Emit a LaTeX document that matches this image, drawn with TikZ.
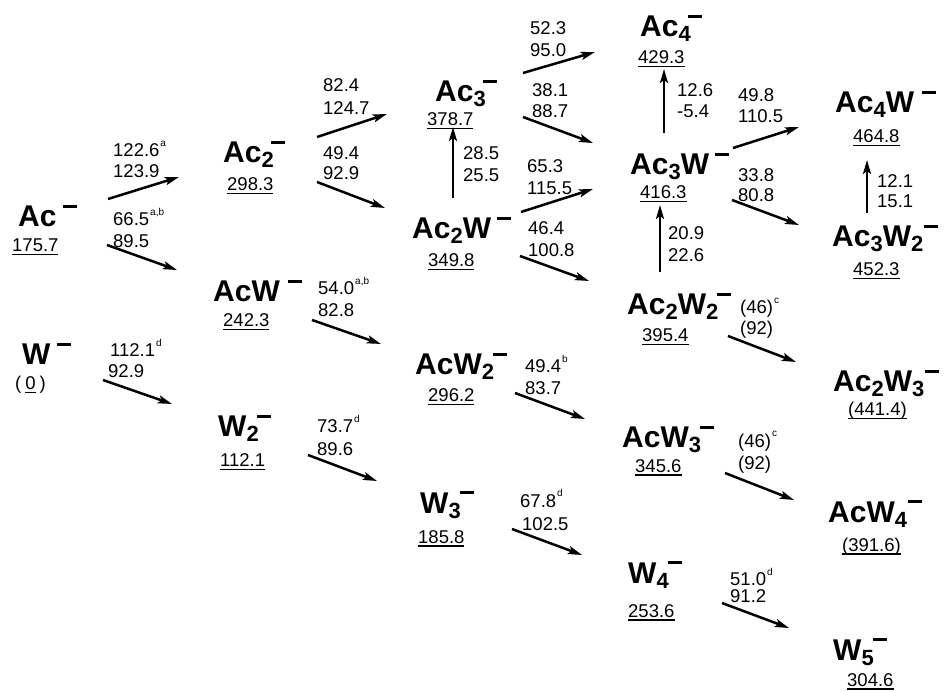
\documentclass[tikz,border=0pt]{standalone}
\usepackage{fontspec}
\setmainfont{Liberation Sans}
\usetikzlibrary{arrows.meta}
\newcommand\lsub[1]{\raisebox{-5pt}{\fontsize{22}{22}\selectfont\bfseries #1}}
\newcommand\lneg[1][6pt]{\hspace{#1}\raisebox{19pt}{\rule{14pt}{2.8pt}}}
\newcommand\lsup[1]{\hspace{1pt}\raisebox{10pt}{\fontsize{10}{10}\selectfont #1}}
\newcommand\uln[1]{\setbox0\hbox{#1}\rlap{\rule[-3.5pt]{\wd0}{1.3pt}}\box0}
\tikzset{
 species/.style={anchor=base west, inner sep=0pt, font=\fontsize{30}{30}\selectfont\bfseries},
 val/.style={anchor=base west, inner sep=0pt, font=\fontsize{18.5}{18.5}\selectfont},
 lab/.style={anchor=base west, inner sep=0pt, font=\fontsize{18.5}{18.5}\selectfont},
 arr/.style={line width=2.5pt, -{Stealth[length=14pt,width=8pt,inset=3pt]}},
}
\begin{document}
\begin{tikzpicture}[x=1pt,y=-1pt]
\useasboundingbox (0,0) rectangle (948,692);
% species
\node[species] (s-ac) at (18,227) {Ac\lneg};
\node[val] (v-ac) at (12,252) {\uln{175.7}};
\node[species] (s-w) at (22,365) {W\lneg};
\node[val] (v-w) at (15,390) {(\hspace{4pt}\uln{0}\hspace{4pt})};
\node[species] (s-ac2) at (223,163) {Ac\lsub{2}\lneg[-3pt]};
\node[val] (v-ac2) at (227,191) {\uln{298.3}};
\node[species] (s-acw) at (213,302) {AcW\lneg[8pt]};
\node[val] (v-acw) at (223,327) {\uln{242.3}};
\node[species] (s-w2) at (218,437) {W\lsub{2}\lneg[-2pt]};
\node[val] (v-w2) at (220,467) {\uln{112.1}};
\node[species] (s-ac3) at (435,102) {Ac\lsub{3}\lneg[-3pt]};
\node[val] (v-ac3) at (427,126) {\uln{378.7}};
\node[species] (s-ac2w) at (412,239) {Ac\lsub{2}W\lneg[6pt]};
\node[val] (v-ac2w) at (428,267) {\uln{349.8}};
\node[species] (s-acw2) at (415,375) {AcW\lsub{2}\lneg[-1pt]};
\node[val] (v-acw2) at (428,402) {\uln{296.2}};
\node[species] (s-w3) at (420,513) {W\lsub{3}\lneg[-1pt]};
\node[val] (v-w3) at (418,543) {\uln{185.8}};
\node[species] (s-ac4) at (640,37) {Ac\lsub{4}\lneg[-3pt]};
\node[val] (v-ac4) at (638,64) {\uln{429.3}};
\node[species] (s-ac3w) at (630,175) {Ac\lsub{3}W\lneg[6pt]};
\node[val] (v-ac3w) at (640,199) {\uln{416.3}};
\node[species] (s-ac2w2) at (627,315) {Ac\lsub{2}W\lsub{2}\lneg[-1pt]};
\node[val] (v-ac2w2) at (642,342) {\uln{395.4}};
\node[species] (s-acw3) at (622,448) {AcW\lsub{3}\lneg[-1pt]};
\node[val] (v-acw3) at (635,472) {\uln{345.6}};
\node[species] (s-w4) at (628,583) {W\lsub{4}\lneg[-1pt]};
\node[val] (v-w4) at (628,617) {\uln{253.6}};
\node[species] (s-ac4w) at (835,113) {Ac\lsub{4}W\lneg[8pt]};
\node[val] (v-ac4w) at (853,143) {\uln{464.8}};
\node[species] (s-ac3w2) at (832,247) {Ac\lsub{3}W\lsub{2}\lneg[1pt]};
\node[val] (v-ac3w2) at (853,276) {\uln{452.3}};
\node[species] (s-ac2w3) at (833,392) {Ac\lsub{2}W\lsub{3}\lneg[1pt]};
\node[val] (v-ac2w3) at (848,416) {\uln{(441.4)}};
\node[species] (s-acw4) at (828,522) {AcW\lsub{4}\lneg[1pt]};
\node[val] (v-acw4) at (842,551) {\uln{(391.6)}};
\node[species] (s-w5) at (833,660) {W\lsub{5}\lneg[-1pt]};
\node[val] (v-w5) at (847,686) {\uln{304.6}};
% labels
\node[lab] (l1a) at (113,157) {122.6\lsup{a}};
\node[lab] (l1b) at (113,178) {123.9};
\node[lab] (l2a) at (113,226) {66.5\lsup{a,b}};
\node[lab] (l2b) at (113,248) {89.5};
\node[lab] (l3a) at (110,357) {112.1\lsup{d}};
\node[lab] (l3b) at (108,378) {92.9};
\node[lab] (l4a) at (323,92) {82.4};
\node[lab] (l4b) at (323,115) {124.7};
\node[lab] (l5a) at (323,160) {49.4};
\node[lab] (l5b) at (323,180) {92.9};
\node[lab] (l6a) at (318,295) {54.0\lsup{a,b}};
\node[lab] (l6b) at (318,317) {82.8};
\node[lab] (l7a) at (317,433) {73.7\lsup{d}};
\node[lab] (l7b) at (317,455) {89.6};
\node[lab] (l8a) at (463,160) {28.5};
\node[lab] (l8b) at (463,182) {25.5};
\node[lab] (l9a) at (530,35) {52.3};
\node[lab] (l9b) at (530,57) {95.0};
\node[lab] (l10a) at (532,97) {38.1};
\node[lab] (l10b) at (532,118) {88.7};
\node[lab] (l11a) at (527,173) {65.3};
\node[lab] (l11b) at (527,195) {115.5};
\node[lab] (l12a) at (528,235) {46.4};
\node[lab] (l12b) at (528,257) {100.8};
\node[lab] (l13a) at (525,373) {49.4\lsup{b}};
\node[lab] (l13b) at (525,395) {83.7};
\node[lab] (l14a) at (520,507) {67.8\lsup{d}};
\node[lab] (l14b) at (522,530) {102.5};
\node[lab] (l15a) at (677,97) {12.6};
\node[lab] (l15b) at (677,118) {-5.4};
\node[lab] (l16a) at (668,240) {20.9};
\node[lab] (l16b) at (668,262) {22.6};
\node[lab] (l17a) at (738,102) {49.8};
\node[lab] (l17b) at (738,123) {110.5};
\node[lab] (l18a) at (738,182) {33.8};
\node[lab] (l18b) at (738,202) {80.8};
\node[lab] (l19a) at (877,188) {12.1};
\node[lab] (l19b) at (877,208) {15.1};
\node[lab] (l20a) at (740,314) {(46)\lsup{c}};
\node[lab] (l20b) at (740,335) {(92)};
\node[lab] (l21a) at (738,447) {(46)\lsup{c}};
\node[lab] (l21b) at (738,469) {(92)};
\node[lab] (l22a) at (730,585) {51.0\lsup{d}};
\node[lab] (l22b) at (730,602) {91.2};
% arrow ends
\coordinate (t1) at (108,199); \coordinate (h1) at (179,177);
\coordinate (t2) at (107,245); \coordinate (h2) at (177,270);
\coordinate (t3) at (103,380); \coordinate (h3) at (172,404);
\coordinate (t4) at (317,137); \coordinate (h4) at (387,114);
\coordinate (t5) at (317,182); \coordinate (h5) at (385,208);
\coordinate (t6) at (312,320); \coordinate (h6) at (381,344);
\coordinate (t7) at (308,455); \coordinate (h7) at (377,481);
\coordinate (t8) at (453,198); \coordinate (h8) at (453,127);
\coordinate (t9) at (523,73); \coordinate (h9) at (595,52);
\coordinate (t10) at (523,117); \coordinate (h10) at (593,143);
\coordinate (t11) at (521,212); \coordinate (h11) at (593,189);
\coordinate (t12) at (520,256); \coordinate (h12) at (589,281);
\coordinate (t13) at (515,393); \coordinate (h13) at (585,419);
\coordinate (t14) at (512,529); \coordinate (h14) at (582,555);
\coordinate (t15) at (664,133); \coordinate (h15) at (664,69);
\coordinate (t16) at (660,272); \coordinate (h16) at (660,205);
\coordinate (t17) at (733,148); \coordinate (h17) at (799,127);
\coordinate (t18) at (732,200); \coordinate (h18) at (799,225);
\coordinate (t19) at (867,213); \coordinate (h19) at (867,160);
\coordinate (t20) at (728,336); \coordinate (h20) at (796,362);
\coordinate (t21) at (725,473); \coordinate (h21) at (794,500);
\coordinate (t22) at (722,603); \coordinate (h22) at (789,628);
\foreach \i in {1,...,22} {\draw[arr] (t\i) -- (h\i);}
\end{tikzpicture}
\end{document}
